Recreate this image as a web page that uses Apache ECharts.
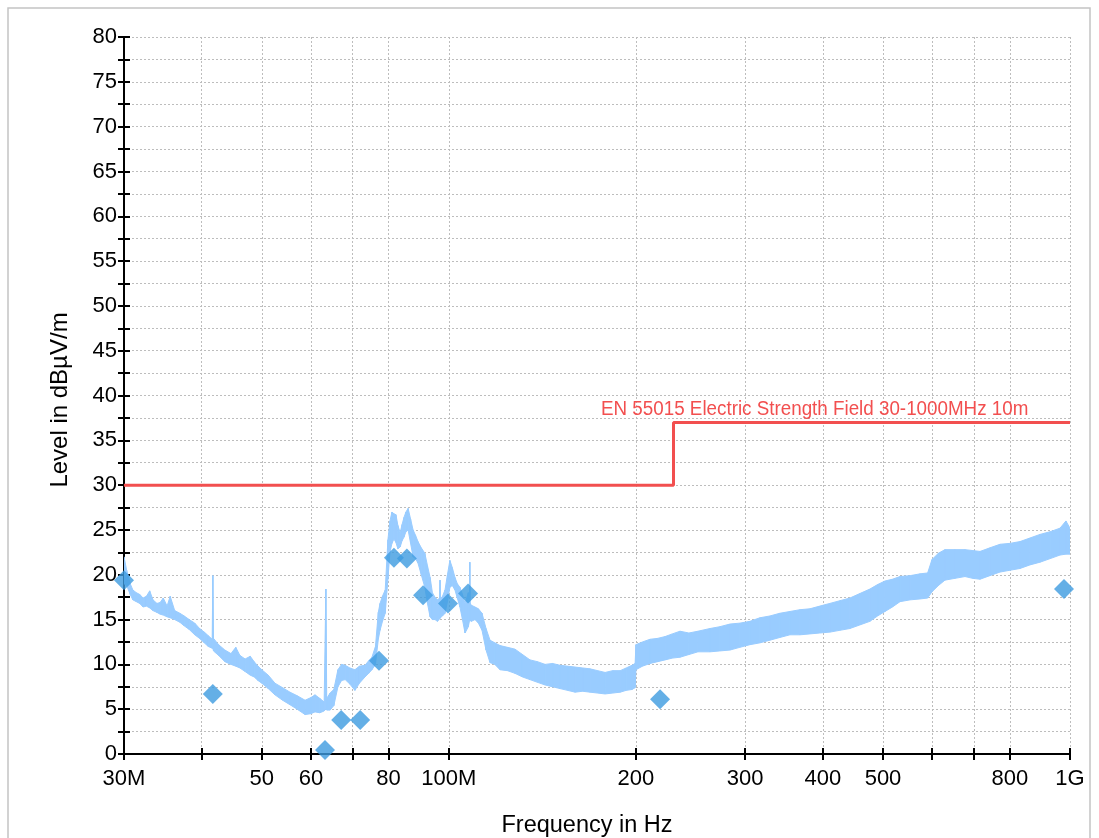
<!DOCTYPE html>
<html>
<head>
<meta charset="utf-8">
<script src="https://cdn.jsdelivr.net/npm/echarts/dist/echarts.min.js"></script>
<style>
html,body{margin:0;padding:0;background:#fff;}
#chart{width:1099px;height:838px;}
</style>
</head>
<body>
<div id="chart"></div>
<script>
// ---- Data (frequency in MHz, level in dBµV/m) ----
// Measured trace: upper and lower edges of the noisy band
const traceFreq = [30.0,30.3,30.7,31.0,31.4,31.8,32.2,32.6,33.0,33.4,33.9,34.3,34.7,35.2,35.6,36.2,36.9,37.5,38.2,39.0,39.7,40.4,41.0,41.6,41.7,41.8,42.6,43.6,44.6,45.4,46.1,47.0,47.9,48.6,49.3,50.0,51.2,52.5,54.0,55.5,57.0,58.7,60.0,60.9,62.0,63.0,63.4,63.6,64.4,65.3,66.3,67.2,68.1,69.3,70.6,71.8,73.3,74.3,75.2,76.2,77.0,77.5,78.2,79.0,79.8,80.4,81.0,81.6,82.2,82.8,83.5,84.1,84.7,85.3,86.0,86.8,87.6,88.4,89.2,90.3,91.5,92.4,93.3,94.1,95.0,95.9,96.7,96.8,96.9,97.7,98.6,99.5,100.4,101.3,102.3,103.2,104.2,105.2,106.2,107.5,108.0,108.1,108.2,108.7,110.2,111.6,113.1,114.8,116.5,118.6,120.9,124.3,127.8,131.4,135.1,138.9,142.9,146.9,151.0,155.3,159.7,164.2,168.8,173.6,178.5,183.6,188.8,193.0,197.2,199.5,200.1,205.0,210.8,216.8,222.9,229.0,235.6,243.5,251.8,263.3,273.0,283.6,294.0,305.3,316.8,328.8,341.0,354.1,367.5,381.3,395.5,410.6,426.0,442.2,458.8,476.2,490.0,503.6,517.8,532.6,553.0,573.5,590.0,599.6,614.0,629.0,653.0,677.6,697.0,716.4,743.0,771.5,800.0,830.9,862.0,894.8,929.0,963.7,985.0,1000.0];
const traceUpper = [22.0,20.5,19.0,18.3,18.0,17.8,17.4,17.6,18.2,17.2,16.8,16.9,17.4,16.5,17.6,16.0,15.7,15.4,15.0,14.6,14.0,13.6,13.2,12.8,19.9,12.9,12.2,11.6,11.2,11.9,11.0,10.6,10.9,10.3,9.8,9.4,8.8,7.9,7.4,6.9,6.5,6.0,6.3,6.6,6.2,5.8,18.4,6.2,6.8,7.2,9.4,10.0,9.9,9.6,9.4,9.8,9.9,10.4,10.8,12.0,15.8,16.8,17.6,18.3,23.9,26.0,27.0,26.8,26.7,25.5,24.7,25.6,26.4,27.0,27.4,26.2,25.0,24.4,23.7,23.0,22.4,21.0,19.7,18.0,17.5,17.2,17.4,19.4,17.3,17.6,18.3,20.0,21.6,20.8,19.7,19.0,18.6,17.8,16.8,18.0,16.9,21.4,16.8,16.6,16.4,16.2,15.7,14.0,12.7,12.4,12.1,11.9,11.7,11.1,10.5,10.3,10.0,10.1,9.9,9.8,9.7,9.6,9.5,9.3,9.1,9.3,9.3,9.6,9.9,10.1,12.2,12.5,12.8,12.9,13.1,13.4,13.7,13.5,13.7,14.0,14.2,14.5,14.6,14.8,15.2,15.4,15.7,15.9,16.1,16.2,16.5,16.8,17.1,17.4,17.9,18.4,18.9,19.3,19.5,19.8,19.9,20.1,20.2,21.7,22.4,22.8,22.8,22.8,22.7,22.6,23.0,23.4,23.5,23.7,24.1,24.5,24.8,25.2,26.0,25.2];
const traceLower = [19.0,18.8,17.8,17.2,17.0,16.8,16.4,16.5,16.3,16.0,15.8,15.6,15.5,15.3,15.2,15.0,14.7,14.3,13.9,13.3,12.9,12.4,12.0,11.8,11.8,11.5,11.0,10.3,10.0,9.8,9.6,9.2,8.8,8.6,8.2,7.9,7.3,6.6,6.0,5.5,5.0,4.4,4.5,4.7,4.6,4.8,5.0,4.9,4.9,5.4,7.5,8.2,8.3,7.8,7.1,7.9,8.6,9.0,9.4,10.0,12.8,13.8,14.8,15.7,19.5,22.5,23.5,24.0,23.6,22.9,23.1,23.8,24.2,24.8,25.0,23.5,22.0,21.8,21.3,20.0,18.6,16.8,15.3,15.0,15.0,14.8,15.1,15.2,15.2,15.4,15.7,17.0,18.6,18.8,18.3,17.4,16.4,15.0,13.5,14.2,14.9,15.0,14.9,14.8,15.0,14.6,13.8,11.6,10.2,10.0,9.4,9.3,9.0,8.6,8.3,8.0,7.7,7.5,7.3,7.1,6.9,7.0,6.9,6.8,6.7,6.8,6.9,7.1,7.2,7.4,9.4,9.8,10.1,10.3,10.5,10.7,10.8,11.1,11.4,11.4,11.5,11.6,11.9,12.2,12.4,12.7,13.0,13.3,13.3,13.4,13.5,13.6,13.8,14.0,14.4,14.8,15.4,15.9,16.4,17.0,17.2,17.3,17.4,18.1,18.8,19.4,19.6,19.8,19.6,19.5,19.9,20.3,20.5,20.7,21.1,21.4,21.8,22.2,22.3,22.3];

// Final (quasi-peak) measurement points
const peakFreq  = [30.0, 41.7, 63.2, 67.1, 72.0, 77.2, 81.6, 85.6, 90.9, 99.7, 107.4, 218.8, 978.0];
const peakLevel = [19.4, 6.7, 0.45, 3.8, 3.8, 10.4, 21.9, 21.8, 17.7, 16.8, 17.9, 6.1, 18.4];

// Limit line
const limitFreq  = [30, 230, 230, 1000];
const limitLevel = [30, 30, 37, 37];
const limitName = 'EN 55015 Electric Strength Field 30-1000MHz 10m';

// Axis ticks / labels
const xTickValues  = [30, 40, 50, 60, 70, 80, 100, 200, 300, 400, 500, 600, 700, 800, 1000];
const xLabelValues = [30, 50, 60, 80, 100, 200, 300, 400, 500, 800, 1000];
const xLabelTexts  = ['30M', '50', '60', '80', '100M', '200', '300', '400', '500', '800', '1G'];
const yMin = 0, yMax = 80, yStep = 5;
const xTitle = 'Frequency in Hz';
const yTitle = 'Level in dBµV/m';

// ---- Build ----
const chart = echarts.init(document.getElementById('chart'), null, {renderer: 'canvas'});
const FONT = '"Liberation Sans", Arial, sans-serif';
const gridDotted = {show: true, lineStyle: {color: '#bdbdbd', width: 1, type: [2, 2]}};

const bandData = traceFreq.map((f, i) => [f, traceUpper[i], traceLower[i]]);
const limitData = limitFreq.map((f, i) => [f, limitLevel[i]]);
const peakData = peakFreq.map((f, i) => [f, peakLevel[i]]);

function labelFor(v) {
  let best = 0, bd = Infinity;
  xLabelValues.forEach((lv, i) => { const d = Math.abs(Math.log(lv) - Math.log(v)); if (d < bd) { bd = d; best = i; } });
  return xLabelTexts[best];
}

const xBase = {
  type: 'log', logBase: 10, min: 30, max: 1000, gridIndex: 0, position: 'bottom'
};
const yBase = {
  type: 'value', min: yMin, max: yMax, interval: yStep, gridIndex: 0, position: 'left'
};

const option = {
  animation: false,
  backgroundColor: '#fff',
  grid: {left: 124, right: 29, top: 37, bottom: 84, containLabel: false},
  xAxis: [
    Object.assign({}, xBase, {
      axisLine: {show: true, onZero: false, lineStyle: {color: '#000', width: 2}},
      axisTick: {show: true, customValues: xTickValues, length: 6, lineStyle: {color: '#000', width: 2}},
      axisLabel: {show: true, customValues: xLabelValues, formatter: v => labelFor(v),
        fontFamily: FONT, fontSize: 22, color: '#000', margin: 14, hideOverlap: false},
      splitLine: gridDotted,
      minorTick: {show: false}
    }),
    Object.assign({}, xBase, {
      axisLine: {show: false},
      axisTick: {show: true, inside: true, customValues: xTickValues, length: 6, lineStyle: {color: '#000', width: 2}},
      axisLabel: {show: false},
      splitLine: {show: false}
    })
  ],
  yAxis: [
    Object.assign({}, yBase, {
      axisLine: {show: true, onZero: false, lineStyle: {color: '#000', width: 2}},
      axisTick: {show: true, length: 6, lineStyle: {color: '#000', width: 2}},
      minorTick: {show: true, splitNumber: 2, length: 6, lineStyle: {color: '#000', width: 2}},
      axisLabel: {fontFamily: FONT, fontSize: 22, color: '#000', margin: 7},
      splitLine: gridDotted,
      minorSplitLine: gridDotted
    }),
    Object.assign({}, yBase, {
      axisLine: {show: false},
      axisTick: {show: true, inside: true, length: 6, lineStyle: {color: '#000', width: 2}},
      minorTick: {show: true, splitNumber: 2, length: 6, lineStyle: {color: '#000', width: 2}},
      axisLabel: {show: false},
      splitLine: {show: false}
    })
  ],
  series: [
    {
      name: 'trace',
      type: 'custom',
      xAxisIndex: 0, yAxisIndex: 0,
      data: bandData,
      encode: {x: 0, y: [1, 2]},
      clip: true,
      z: 2,
      renderItem: function (params, api) {
        const i = params.dataIndexInside;
        if (i >= bandData.length - 1) return null;
        const p1 = api.coord([api.value(0, i), api.value(1, i)]);
        const p2 = api.coord([api.value(0, i + 1), api.value(1, i + 1)]);
        const p3 = api.coord([api.value(0, i + 1), api.value(2, i + 1)]);
        const p4 = api.coord([api.value(0, i), api.value(2, i)]);
        return {
          type: 'polygon',
          shape: {points: [p1, p2, p3, p4]},
          style: {fill: '#99ccff', stroke: '#99ccff', lineWidth: 1}
        };
      }
    },
    {
      name: limitName,
      type: 'line',
      xAxisIndex: 0, yAxisIndex: 0,
      data: limitData,
      showSymbol: false,
      symbol: 'none',
      lineStyle: {color: '#f24f4f', width: 3},
      z: 3
    },
    {
      name: 'final',
      type: 'scatter',
      xAxisIndex: 0, yAxisIndex: 0,
      data: peakData,
      symbol: 'diamond',
      symbolSize: [20, 20],
      itemStyle: {color: '#3d9be0'},
      z: 4
    }
  ],
  graphic: [
    {type: 'rect', silent: true, shape: {x: 8, y: 8, width: 1082, height: 850},
      style: {fill: 'none', stroke: '#c4c4c4', lineWidth: 1.5}, z: 0},
    {type: 'text', x: 601, y: 409, scaleX: 0.94, silent: true,
      style: {text: limitName, fill: '#f24f4f', font: '20px ' + FONT, textAlign: 'left', textVerticalAlign: 'middle', verticalAlign: 'middle'}, z: 10},
    {type: 'text', x: 587, y: 826, silent: true,
      style: {text: xTitle, fill: '#000', font: '23.5px ' + FONT, textAlign: 'center', textVerticalAlign: 'middle', verticalAlign: 'middle'}},
    {type: 'text', x: 60, y: 400, rotation: Math.PI / 2, silent: true,
      style: {text: yTitle, fill: '#000', font: '24px ' + FONT, textAlign: 'center', textVerticalAlign: 'middle', verticalAlign: 'middle'}}
  ]
};
chart.setOption(option);
</script>
</body>
</html>
